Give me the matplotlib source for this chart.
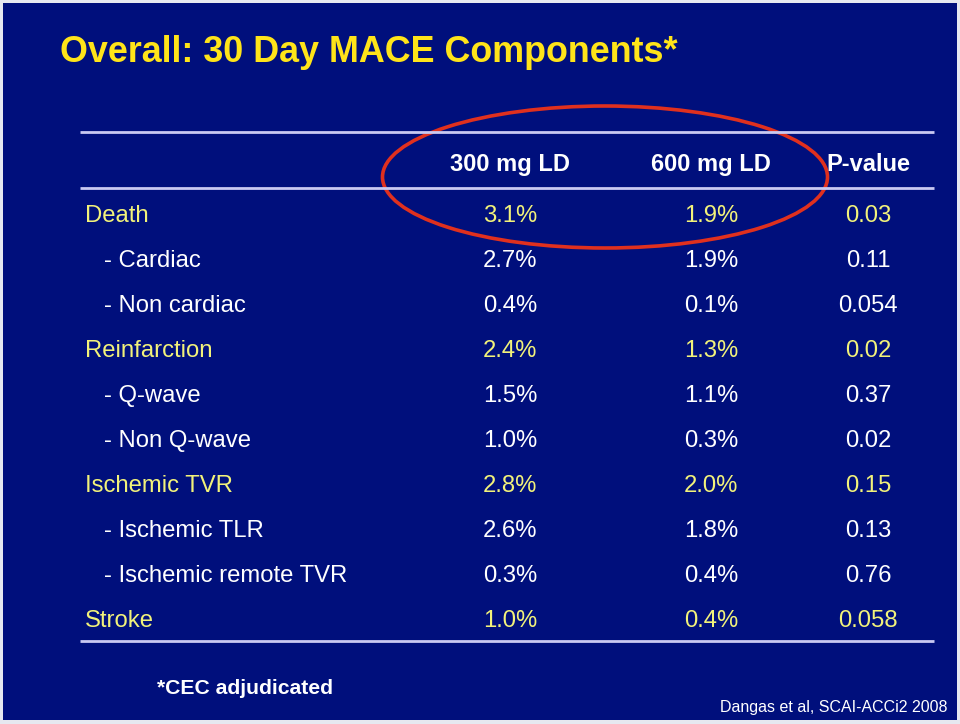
import matplotlib.pyplot as plt
from matplotlib.patches import Rectangle, Ellipse

title = "Overall: 30 Day MACE Components*"
headers = ["300 mg LD", "600 mg LD", "P-value"]
outcomes = ["Death", "- Cardiac", "- Non cardiac", "Reinfarction", "- Q-wave",
            "- Non Q-wave", "Ischemic TVR", "- Ischemic TLR",
            "- Ischemic remote TVR", "Stroke"]
ld300 = ["3.1%", "2.7%", "0.4%", "2.4%", "1.5%", "1.0%", "2.8%", "2.6%", "0.3%", "1.0%"]
ld600 = ["1.9%", "1.9%", "0.1%", "1.3%", "1.1%", "0.3%", "2.0%", "1.8%", "0.4%", "0.4%"]
pvals = ["0.03", "0.11", "0.054", "0.02", "0.37", "0.02", "0.15", "0.13", "0.76", "0.058"]
footnote = "*CEC adjudicated"
source = "Dangas et al, SCAI-ACCi2 2008"

navy = "#000F7C"
yellow_title = "#FFE419"
yellow_row = "#F2F27A"
rule_col = "#C9C9F2"

plt.rcParams['font.family'] = ['Liberation Sans', 'DejaVu Sans']

fig = plt.figure(figsize=(9.6, 7.24), dpi=100, facecolor="#E6E8F0")
ax = fig.add_axes([0, 0, 1, 1])
ax.set_xlim(0, 960)
ax.set_ylim(724, 0)
ax.axis('off')

ax.add_patch(Rectangle((3, 3), 954, 717, facecolor=navy, edgecolor='none'))

ax.text(60, 48, title, color=yellow_title, fontsize=25.8, fontweight='bold',
        ha='left', va='center_baseline')

# table rules
for y in (132, 188, 641):
    ax.plot([80, 934], [y, y], color=rule_col, lw=2, solid_capstyle='butt')

col_x = [510, 711, 868]
for x, h in zip(col_x, headers):
    ax.text(x, 162, h, color='white', fontsize=17, fontweight='bold',
            ha='center', va='center_baseline')

row_y0, row_step = 213.5, 45
for i, name in enumerate(outcomes):
    y = row_y0 + i * row_step
    main = not name.startswith("-")
    col = yellow_row if main else 'white'
    ax.text(85 if main else 104, y, name, color=col, fontsize=17.2,
            ha='left', va='center_baseline')
    for x, v in zip(col_x, (ld300[i], ld600[i], pvals[i])):
        ax.text(x, y, v, color=col, fontsize=17.2, ha='center',
                va='center_baseline')

# red highlight ellipse around the two dose columns
ax.add_patch(Ellipse((605, 177), 445, 142, angle=0, facecolor='none',
                     edgecolor='#E0301E', lw=2.6))

ax.text(157, 686, footnote, color='white', fontsize=15.2, fontweight='bold',
        ha='left', va='center_baseline')
ax.text(948, 706, source, color='white', fontsize=11.5,
        ha='right', va='center_baseline')

fig.savefig("out.png", dpi=100, facecolor=fig.get_facecolor())
